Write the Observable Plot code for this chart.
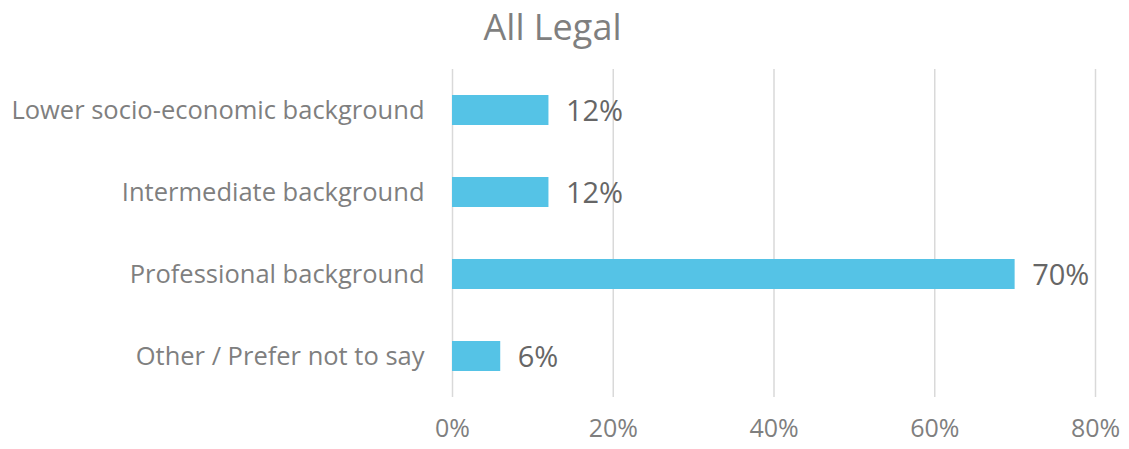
<!DOCTYPE html>
<html>
<head>
<meta charset="utf-8">
<script src="https://cdn.jsdelivr.net/npm/d3@7"></script>
<script src="https://cdn.jsdelivr.net/npm/@observablehq/plot@0.6"></script>
<style>
  html, body { margin: 0; padding: 0; background: #fff; }
  #title { width: 1105px; height: 56px; line-height: 54px; text-align: center;
    font-family: "Open Sans", sans-serif; font-size: 36px; color: #7f7f7f; font-weight: 400; }
</style>
</head>
<body>
<div id="title">All Legal</div>
<div id="chart"></div>
<script>
const categories = ["Lower socio-economic background", "Intermediate background", "Professional background", "Other / Prefer not to say"];
const values = [12, 12, 70, 6];
const valueLabels = ["12%", "12%", "70%", "6%"];
const xTicks = [0, 20, 40, 60, 80];
const xTickLabels = ["0%", "20%", "40%", "60%", "80%"];

const data = categories.map((c, i) => ({category: c, value: values[i], label: valueLabels[i]}));

const chart = Plot.plot({
  width: 1129,
  height: 393,
  marginLeft: 452,
  marginRight: 34,
  marginTop: 13,
  marginBottom: 52,
  style: {fontFamily: "'Open Sans', sans-serif", background: "#fff"},
  x: {domain: [0, 80]},
  y: {domain: categories, paddingInner: 0.634, paddingOuter: 0.317, align: 0.5},
  marks: [
    Plot.ruleX(xTicks, {stroke: "#d9d9d9", strokeWidth: 1.5}),
    Plot.barX(data, {y: "category", x: "value", fill: "#55c3e6"}),
    Plot.text(data, {y: "category", x: "value", text: "label", textAnchor: "start", dx: 17, dy: 1,
      fontSize: 29, fill: "#666666"}),
    Plot.axisX(xTicks, {tickSize: 0, tickPadding: 22, fontSize: 25, color: "#7f7f7f",
      tickFormat: (d) => xTickLabels[xTicks.indexOf(d)], label: null}),
    Plot.axisY({tickSize: 0, tickPadding: 28, fontSize: 25.5, color: "#7f7f7f", label: null})
  ]
});
document.getElementById("chart").appendChild(chart);
</script>
</body>
</html>
